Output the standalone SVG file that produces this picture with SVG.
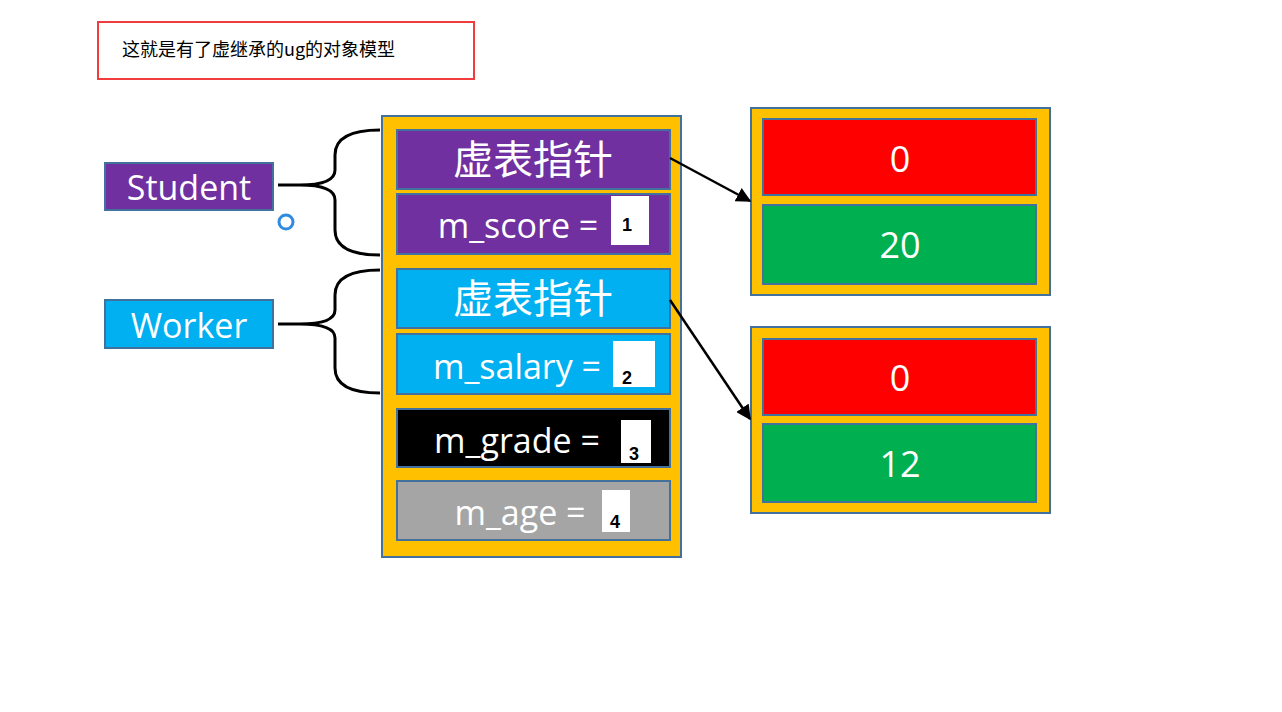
<svg xmlns="http://www.w3.org/2000/svg" width="1282" height="712" viewBox="0 0 1282 712">
<style>
.t{font-family:"Open Sans","Noto Sans","Liberation Sans",sans-serif;fill:#fff;text-anchor:middle}
.c{font-family:"Noto Sans CJK SC",sans-serif;fill:#fff;text-anchor:middle;font-size:40px}
.n{font-family:"Liberation Sans",sans-serif;font-weight:bold;font-size:18px;fill:#000;text-anchor:middle}
.box{stroke:#41719C;stroke-width:2}
.brace{fill:none;stroke:#000;stroke-width:3}
</style>
<defs><marker id="ah" viewBox="0 0 10 10" refX="9" refY="5" markerWidth="6" markerHeight="6" orient="auto"><path d="M0,0L10,5L0,10z" fill="#000"/></marker></defs>
<rect width="1282" height="712" fill="#fff"/>
<g id="title"><rect x="98" y="22" width="376" height="57" fill="#fff" stroke="#F03C3C" stroke-width="2"/><text x="122" y="56" font-family="Noto Sans CJK SC,sans-serif" font-size="18" fill="#000">这就是有了虚继承的ug的对象模型</text></g>
<g id="student"><rect x="105" y="163" width="168" height="47" fill="#7030A0" class="box"/><text class="t" x="189" y="200" font-size="34">Student</text></g>
<g id="worker"><rect x="105" y="300" width="168" height="48" fill="#00B0F0" class="box"/><text class="t" x="189" y="338" font-size="34">Worker</text></g>
<circle cx="286" cy="222" r="7" fill="#fff" stroke="#2E8BE0" stroke-width="3"/>
<g id="main">
<rect x="382" y="116" width="299" height="441" fill="#FFC000" class="box"/>
<rect x="397" y="130" width="273" height="59" fill="#7030A0" class="box"/><text class="c" x="533" y="174">虚表指针</text>
<rect x="397" y="194" width="273" height="60" fill="#7030A0" class="box"/><text class="t" x="518" y="238" font-size="34">m_score =</text>
<rect x="611" y="196" width="38" height="49" fill="#fff"/><text class="n" x="627" y="231">1</text>
<rect x="397" y="269" width="273" height="59" fill="#00B0F0" class="box"/><text class="c" x="533" y="313">虚表指针</text>
<rect x="397" y="334" width="273" height="60" fill="#00B0F0" class="box"/><text class="t" x="517" y="379" font-size="34">m_salary =</text>
<rect x="613" y="341" width="42" height="46" fill="#fff"/><text class="n" x="627" y="384">2</text>
<rect x="397" y="409" width="273" height="58" fill="#000" class="box"/><text class="t" x="517" y="453" font-size="34">m_grade =</text>
<rect x="621" y="420" width="30" height="43" fill="#fff"/><text class="n" x="634" y="460">3</text>
<rect x="397" y="481" width="273" height="59" fill="#A5A5A5" class="box"/><text class="t" x="520" y="525" font-size="34">m_age =</text>
<rect x="602" y="490" width="28" height="42" fill="#fff"/><text class="n" x="615" y="528">4</text>
</g>
<g id="vtable1"><rect x="751" y="108" width="299" height="187" fill="#FFC000" class="box"/>
<rect x="763" y="119" width="273" height="76" fill="#FF0000" class="box"/><text class="t" x="900" y="172" font-size="36">0</text>
<rect x="763" y="205" width="273" height="79" fill="#00B050" class="box"/><text class="t" x="900" y="258" font-size="36">20</text></g>
<g id="vtable2"><rect x="751" y="327" width="299" height="186" fill="#FFC000" class="box"/>
<rect x="763" y="339" width="273" height="76" fill="#FF0000" class="box"/><text class="t" x="900" y="391" font-size="36">0</text>
<rect x="763" y="424" width="273" height="78" fill="#00B050" class="box"/><text class="t" x="900" y="477" font-size="36">12</text></g>
<g id="connectors">
<path class="brace" d="M380,130 Q335,130 335,155 L335,170 Q335,185 300,185 Q335,185 335,200 L335,230 Q335,255 380,255"/>
<path class="brace" d="M278,185 L300,185"/>
<path class="brace" d="M380,270 Q335,270 335,295 L335,310 Q335,324 300,324 Q335,324 335,338 L335,368 Q335,393 380,393"/>
<path class="brace" d="M278,324 L300,324"/>
<line x1="670" y1="158" x2="750" y2="201" stroke="#000" stroke-width="2.5" marker-end="url(#ah)"/>
<line x1="670" y1="300" x2="750" y2="419" stroke="#000" stroke-width="2.5" marker-end="url(#ah)"/>
</g>
</svg>
